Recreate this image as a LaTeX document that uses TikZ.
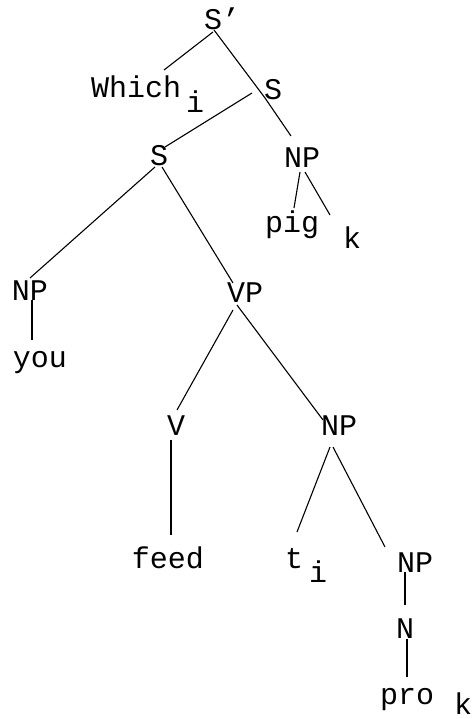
\documentclass[tikz,border=0pt]{standalone}
\usepackage{fontspec}
\setmonofont{Liberation Mono}
\usetikzlibrary{calc}
\newcommand{\mysub}[3]{\hspace{#1}\raisebox{-#2}{#3}}
\begin{document}
\begin{tikzpicture}[x=1pt,y=-1pt,
  lbl/.style={inner sep=0pt,anchor=base,font=\ttfamily\fontsize{30}{30}\selectfont},
  lblw/.style={lbl,anchor=base west},
  edge/.style={line width=1.1pt,black}]
\useasboundingbox (0,0) rectangle (472,719);
% nodes
\node[lbl] (sp) at (222,30) {S’};
\node[lblw] (which) at (91,98) {Which\mysub{5pt}{15pt}{i}};
\node[lbl] (s1) at (273,100) {S};
\node[lbl] (np1) at (302,168) {NP};
\node[lbl] (pig) at (292,233) {pig};
\node[lbl] (kpig) at (352,248) {k};
\node[lbl] (s2) at (159,166) {S};
\node[lbl] (np2) at (30,300) {NP};
\node[lbl] (you) at (40,367) {you};
\node[lbl] (vp) at (245,302) {VP};
\node[lbl] (v) at (176,435) {V};
\node[lbl] (np3) at (339,435) {NP};
\node[lbl] (feed) at (168,568) {feed};
\node[lblw] (t) at (285,568) {t\mysub{6pt}{14pt}{i}};
\node[lbl] (np4) at (415,572) {NP};
\node[lbl] (n) at (405,638) {N};
\node[lblw] (pro) at (380,704) {pro\mysub{20pt}{10pt}{k}};
% connectors
\draw[edge] ($(sp.base)+(-9,2)$) -- ($(which.base west)+(73,-28)$);
\draw[edge] ($(sp.base)+(-8,0)$) -- ($(s1.base)+(-8,-2)$);
\draw[edge] ($(s1.base)+(-8,-2)$) -- ($(np1.base)+(-11,-32)$);
\draw[edge] ($(s1.base)+(-21,-7)$) -- ($(s2.base)+(6,-19)$);
\draw[edge] ($(np1.base)+(-2,4)$) -- ($(pig.base)+(2,-25)$);
\draw[edge] ($(np1.base)+(3,4)$) -- ($(kpig.base)+(-22,-33)$);
\draw[edge] ($(s2.base)+(-4,1)$) -- ($(np2.base)+(0,-22)$);
\draw[edge] ($(s2.base)+(3,1)$) -- ($(vp.base)+(-12,-19)$);
\draw[edge] ($(np2.base)+(2,0)$) -- ($(you.base)+(-8,-27)$);
\draw[edge] ($(vp.base)+(-12,8)$) -- ($(v.base)+(1,-25)$);
\draw[edge] ($(vp.base)+(-8,3)$) -- ($(np3.base)+(-16,-15)$);
\draw[edge] ($(v.base)+(-5,5)$) -- ($(feed.base)+(3,-33)$);
\draw[edge] ($(np3.base)+(-9,12)$) -- ($(t.base west)+(12,-36)$);
\draw[edge] ($(np3.base)+(-6,12)$) -- ($(np4.base)+(-30,-25)$);
\draw[edge] ($(np4.base)+(-10,0)$) -- ($(n.base)+(0,-33)$);
\draw[edge] ($(n.base)+(2,1)$) -- ($(pro.base west)+(27,-27)$);
\end{tikzpicture}
\end{document}
